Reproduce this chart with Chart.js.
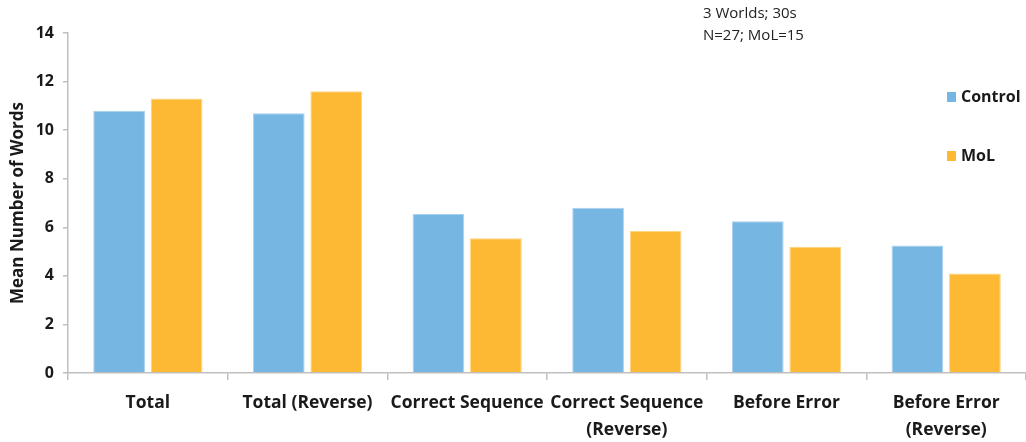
<!DOCTYPE html>
<html>
<head>
<meta charset="utf-8">
<script src="https://cdn.jsdelivr.net/npm/chart.js@4.4.1/dist/chart.umd.min.js"></script>
<style>
  html, body { margin: 0; padding: 0; background: #fff; }
  #wrap { width: 1026px; height: 442px; position: relative; }
</style>
</head>
<body>
<div id="wrap"><canvas id="chart_meanWords"></canvas></div>
<script>
var categories = [
    'Total',
    'Total (Reverse)',
    'Correct Sequence',
    ['Correct Sequence', '(Reverse)'],
    'Before Error',
    ['Before Error', '(Reverse)']
];
var controlValues = [10.8, 10.7, 6.55, 6.8, 6.25, 5.25];
var molValues = [11.3, 11.6, 5.55, 5.85, 5.2, 4.1];
var noteLines = ['3 Worlds; 30s', 'N=27; MoL=15'];

var textColor = '#1a1a1a';
var axisColor = '#bfbfbf';

var chart_meanWords = new Chart(document.getElementById('chart_meanWords'), {
    type: 'bar',
    data: {
        labels: categories,
        datasets: [
            {
                label: 'Control',
                data: controlValues,
                backgroundColor: '#75b6e2',
                borderColor: '#a9d2ef',
                borderWidth: 1
            },
            {
                label: 'MoL',
                data: molValues,
                backgroundColor: '#fdb933',
                borderColor: '#fed47e',
                borderWidth: 1
            }
        ]
    },
    options: {
        animation: false,
        responsive: true,
        maintainAspectRatio: false,
        categoryPercentage: 0.72,
        barPercentage: 0.9,
        layout: {
            padding: { top: 33, right: 0, left: 0, bottom: 0 }
        },
        plugins: {
            legend: { display: false },
            tooltip: { enabled: false }
        },
        scales: {
            x: {
                afterFit: function(scale) { scale.height = 69; },
                border: { color: axisColor, width: 1.5 },
                grid: {
                    offset: true,
                    drawOnChartArea: false,
                    drawTicks: true,
                    tickLength: 7,
                    color: axisColor,
                    lineWidth: 1.5
                },
                ticks: {
                    color: textColor,
                    padding: 9,
                    maxRotation: 0,
                    autoSkip: false,
                    font: { family: 'Open Sans', size: 17.5, weight: 'bold', lineHeight: 1.55 }
                }
            },
            y: {
                min: 0,
                max: 14,
                afterFit: function(scale) { scale.width = 68; },
                border: { color: axisColor, width: 1.5 },
                grid: {
                    drawOnChartArea: false,
                    drawTicks: true,
                    tickLength: 5,
                    color: axisColor,
                    lineWidth: 1.5
                },
                ticks: {
                    stepSize: 2,
                    color: textColor,
                    padding: 9,
                    font: { family: 'Open Sans', size: 16, weight: 'bold' }
                },
                title: {
                    display: true,
                    text: 'Mean Number of Words',
                    color: textColor,
                    padding: { top: 8, bottom: 0 },
                    font: { family: 'Open Sans', size: 17, weight: 'bold' }
                }
            }
        }
    },
    plugins: [{
        id: 'sideLegendAndNote',
        afterDraw: function(chart) {
            var ctx = chart.ctx;
            ctx.save();
            // legend on the right, over the plot
            var legendY = [97, 156];
            chart.data.datasets.forEach(function(ds, i) {
                ctx.fillStyle = ds.backgroundColor;
                ctx.fillRect(947, legendY[i] - 5, 9, 10);
                ctx.fillStyle = textColor;
                ctx.font = 'bold 16px "Open Sans"';
                ctx.textBaseline = 'middle';
                ctx.textAlign = 'left';
                ctx.fillText(ds.label, 961, legendY[i]);
            });
            // sample note
            ctx.fillStyle = '#222';
            ctx.font = '15px "Open Sans"';
            ctx.textBaseline = 'middle';
            noteLines.forEach(function(line, i) {
                ctx.fillText(line, 703, 14 + i * 22);
            });
            ctx.restore();
        }
    }]
});
</script>
</body>
</html>
